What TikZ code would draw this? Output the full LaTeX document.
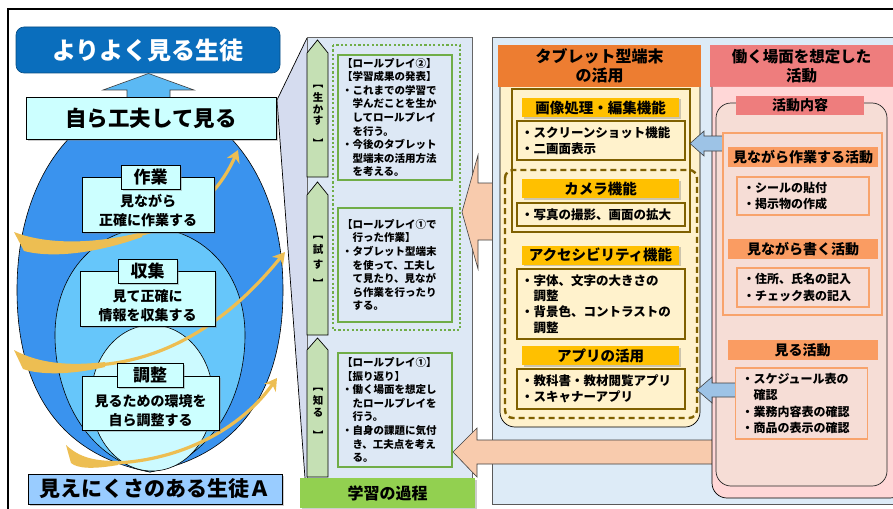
\documentclass[tikz,border=0pt]{standalone}
\usepackage{fontspec}
\setmainfont{Noto Sans CJK JP}
\usetikzlibrary{shadows,arrows.meta}
\newcommand\fsz[2]{\fontsize{#1}{#2}\selectfont}
\definecolor{dblue}{HTML}{0A6EBD}
\definecolor{uparrow}{HTML}{5BB9F4}
\definecolor{lcyan}{HTML}{CCFFFF}
\definecolor{eggA}{HTML}{3A93EE}
\definecolor{eggB}{HTML}{66C6FA}
\definecolor{eggC}{HTML}{CCFAFF}
\definecolor{bottomlbl}{HTML}{99CCFF}
\definecolor{funnel}{HTML}{D5DCEF}
\definecolor{colbg}{HTML}{DDE8F5}
\definecolor{garrow}{HTML}{C5E0B4}
\definecolor{gborder}{HTML}{70AD47}
\definecolor{glabel}{HTML}{92D050}
\definecolor{peach}{HTML}{F8CBAD}
\definecolor{rpanel}{HTML}{DDEBF7}
\definecolor{orhead}{HTML}{ED7D31}
\definecolor{ycol}{HTML}{FFF2CC}
\definecolor{olivebrown}{HTML}{7F6000}
\definecolor{goldh}{HTML}{FFC000}
\definecolor{pinkhead}{HTML}{EE7D7D}
\definecolor{pinkbody}{HTML}{FFD7D7}
\definecolor{pinkinner}{HTML}{F6DDD6}
\definecolor{orlbl}{HTML}{FA9C62}
\definecolor{orborder}{HTML}{F8A36C}
\definecolor{barrow}{HTML}{9DC3E6}
\definecolor{swoosh}{HTML}{EDBE52}
\tikzset{
  shd/.style={drop shadow={shadow xshift=1.5pt,shadow yshift=-1.5pt,opacity=0.4}},
  cbox/.style={draw=black, line width=0.8, fill=lcyan, inner sep=0, align=center, shd},
  btext/.style={font=\bfseries\fsz{14}{19}, align=center, inner sep=0},
  gbox/.style={draw=gborder, line width=1.8, fill=colbg, inner xsep=4pt, text width=106pt, align=left, font=\bfseries\fsz{10.5}{13.6}},
  garr/.style={fill=garrow, draw=black, line width=0.7},
  vtext/.style={font=\bfseries\fsz{10.5}{11.5}, align=center, inner sep=0},
  ghead/.style={fill=goldh, minimum width=157, minimum height=19, inner sep=0, font=\bfseries\fsz{14.5}{14.5}, shd},
  ysub/.style={draw=olivebrown, line width=1.8, fill=ycol, inner xsep=4pt, text width=160pt, align=left, font=\bfseries\fsz{12.5}{15.7}},
  ohead/.style={fill=orlbl, minimum width=150, minimum height=20, inner sep=0, font=\bfseries\fsz{14}{14}},
  osub/.style={draw=orborder, line width=1.6, fill=pinkinner, inner xsep=6pt, text width=120pt, align=left, font=\bfseries\fsz{12}{16.3}},
  swl/.style={draw=swoosh, line width=3.2, -{Stealth[length=12pt,width=14pt]}},
  blk/.style={draw=black!75, line width=0.6}
}
\begin{document}
\begin{tikzpicture}[x=1pt,y=-1pt]
\useasboundingbox (0,0) rectangle (893,508);
\clip (0,0) rectangle (893,508);
\fill[white] (0,0) rectangle (893,508);
\draw[line width=1.2] (8,9) rectangle (910,520);

% funnel and middle column
\fill[funnel] (307,38) -- (277,100) -- (305,478) -- (307,478) -- cycle;
\draw[line width=0.7] (307,38) -- (277,100) -- (305,478);
\filldraw[fill=colbg, draw=black!60, line width=0.7] (307,37) rectangle (472,478);

% eggs
\filldraw[fill=eggA, draw=black, line width=0.6] (150,472) .. controls (60,455) and (17,390) .. (17,290) .. controls (17,175) and (80,101) .. (150,101) .. controls (220,101) and (283,175) .. (283,290) .. controls (283,390) and (240,455) .. (150,472) -- cycle;
\filldraw[fill=eggB, draw=black, line width=0.6] (150,472) .. controls (90,460) and (55,400) .. (55,335) .. controls (55,270) and (100,228) .. (150,228) .. controls (200,228) and (245,270) .. (245,335) .. controls (245,400) and (210,460) .. (150,472) -- cycle;
\filldraw[fill=eggC, draw=black, line width=0.6] (152,398) ellipse [x radius=61, y radius=73];

% swooshes
\fill[swoosh] (14,232) .. controls (50,246) and (100,243) .. (142,232) -- (142,237) .. controls (100,252) and (55,259) .. (24,251) -- cycle;
\draw[swl] (140,234.5) .. controls (185,224) and (218,195) .. (238,150);
\fill[swoosh] (14,350) .. controls (40,364) and (70,366) .. (105,362) -- (105,367) .. controls (70,375) and (40,375) .. (23,369) -- cycle;
\draw[swl] (103,364.5) .. controls (170,358) and (230,320) .. (285,252);
\fill[swoosh] (66,445) .. controls (80,458) and (95,461) .. (118,461) -- (118,465) .. controls (95,469) and (78,469) .. (71,463) -- cycle;
\draw[swl] (116,463) .. controls (180,460) and (240,430) .. (277,378);

% left column nodes
\node[fill=dblue, draw=dblue!70!black, line width=0.6, rounded corners=8, minimum width=264, minimum height=46, inner sep=0, text=white, font=\bfseries\fsz{24}{24}] (goal) at (148,50) {よりよく見る生徒};
\filldraw[fill=uparrow, blk] (127,98) -- (127,90) -- (103,90) -- (148.5,73.5) -- (194,90) -- (170,90) -- (170,98) -- cycle;
\node[cbox, minimum width=250, minimum height=42, font=\bfseries\fsz{21.5}{21.5}] (jiriki) at (151,118) {自ら工夫して見る};

\node[cbox, minimum width=132, minimum height=55] (b1) at (148,204.5) {};
\node[btext] (b1t) at (148,211) {見ながら\\正確に作業する};
\node[cbox, minimum width=59, minimum height=24, font=\bfseries\fsz{17}{17}] (l1) at (150.5,177) {作業};
\node[cbox, minimum width=135, minimum height=55] (b2) at (147.5,298.5) {};
\node[btext] (b2t) at (147.5,306) {見て正確に\\情報を収集する};
\node[cbox, minimum width=59, minimum height=24, font=\bfseries\fsz{17}{17}] (l2) at (147.5,271) {収集};
\node[cbox, minimum width=137, minimum height=54] (b3) at (150.5,403) {};
\node[btext] (b3t) at (150.5,411) {見るための環境を\\自ら調整する};
\node[cbox, minimum width=66, minimum height=24, font=\bfseries\fsz{17}{17}] (l3) at (150,375) {調整};
\node[draw=black, line width=0.8, fill=bottomlbl, minimum width=254, minimum height=30, inner sep=0, font=\bfseries\fsz{21}{21}, shd] (studentA) at (155,489) {見えにくさのある生徒Ａ};

% middle column
\filldraw[garr] (307,53) -- (317.5,40) -- (328,53) -- (328,177) -- (307,177) -- cycle;
\filldraw[garr] (307,195) -- (317.5,182) -- (328,195) -- (328,335) -- (307,335) -- cycle;
\filldraw[garr] (307,350) -- (317.5,338) -- (328,350) -- (328,477) -- (307,477) -- cycle;
\node[vtext] (v1) at (318,116) {︻\\[3pt]生\\か\\す\\[11pt]︼};
\node[vtext] (v2) at (318,262) {︻\\[4pt]試\\[3pt]す\\[8pt]︼};
\node[vtext] (v3) at (318,414) {︻\\[3pt]知\\る\\[12pt]︼};

\draw[gborder, line width=2.2, dash pattern=on 2.2pt off 2.2pt] (333,45) rectangle (460,330);
\node[gbox, minimum height=119] (bA) at (395,117.5) {【ロールプレイ②】\\【学習成果の発表】\\・これまでの学習で\\　学んだことを生か\\　してロールプレイ\\　を行う。\\・今後のタブレット\\　型端末の活用方法\\　を考える。};
\node[gbox, minimum height=114] (bB) at (395,265) {【ロールプレイ①で\\　行った作業】\\・タブレット型端末\\　を使って、工夫し\\　て見たり、見なが\\　ら作業を行ったり\\　する。};
\node[gbox, minimum height=114] (bC) at (395,410) {【ロールプレイ①】\\【振り返り】\\・働く場面を想定し\\　たロールプレイを\\　行う。\\・自身の課題に気付\\　き、工夫点を考え\\　る。};
\node[fill=glabel, minimum width=175, minimum height=30, inner sep=0, font=\bfseries\fsz{16}{16}, shd] (process) at (387.5,493) {学習の過程};

% peach arrow into middle column (upper)
\filldraw[fill=peach, blk] (495,183) -- (478,183) -- (478,155) -- (462,212) -- (478,269) -- (478,240) -- (495,240) -- cycle;

% right panel
\filldraw[fill=rpanel, draw=black!65, line width=0.8] (492,37) rectangle (905,504);

% peach arrow (lower)
\filldraw[fill=peach, blk] (720,440) -- (477,440) -- (477,428) -- (453,452) -- (477,477) -- (477,464) -- (720,464) -- cycle;

% tablet column
\filldraw[fill=ycol, draw=black, line width=0.7, rounded corners=15] (500,87) -- (500,427) -- (700,427) -- (700,87);
\node[fill=orhead, minimum width=203, minimum height=42, inner sep=0, align=center, font=\bfseries\fsz{16}{18.5}] (tabhead) at (599.5,66) {タブレット型端末\\の活用};
\draw[olivebrown, line width=2.4] (512,89) rectangle (690,232);
\draw[olivebrown, line width=2.4, dash pattern=on 6pt off 4pt, rounded corners=8] (505,170) rectangle (697,418);
\node[ghead] (h1) at (600.5,107.5) {画像処理・編集機能};
\node[ysub, minimum height=39] (s1) at (601,140.5) {・スクリーンショット機能\\・二画面表示};
\node[ghead] (h2) at (600.5,188.5) {カメラ機能};
\node[ysub, minimum height=23] (s2) at (601,214.5) {・写真の撮影、画面の拡大};
\node[ghead] (h3) at (600.5,255) {アクセシビリティ機能};
\node[ysub, minimum height=70] (s3) at (601,304) {・字体、文字の大きさの\\　調整\\・背景色、コントラストの\\　調整};
\node[ghead] (h4) at (600.5,355.5) {アプリの活用};
\node[ysub, minimum height=40] (s4) at (601,389) {・教科書・教材閲覧アプリ\\・スキャナーアプリ};

% work column
\node[fill=pinkhead, minimum width=183, minimum height=42, inner sep=0, align=center, font=\bfseries\fsz{15.5}{19}] (workhead) at (801.5,66) {働く場面を想定した\\活動};
\filldraw[fill=pinkbody, draw=black, line width=0.7, rounded corners=15] (712,87) -- (712,498) -- (905,498) -- (905,87);
\filldraw[fill=pinkinner, draw=black!85, line width=0.7, rounded corners=15] (716,103) rectangle (887,486);
\node[fill=pinkhead, minimum width=128, minimum height=19, inner sep=0, font=\bfseries\fsz{14}{14}] (naiyo) at (800,105.5) {活動内容};

% blue arrows
\filldraw[fill=barrow, blk] (723,136) -- (704,136) -- (704,131) -- (690,143.5) -- (704,156) -- (704,151) -- (723,151) -- cycle;
\filldraw[fill=barrow, blk] (736,383) -- (712,383) -- (712,377) -- (697,390) -- (712,403) -- (712,397) -- (736,397) -- cycle;

\draw[orborder, line width=2] (723,133) rectangle (882,315);
\node[ohead] (oh1) at (803,157) {見ながら作業する活動};
\node[osub, minimum height=38] (os1) at (803,196) {・シールの貼付\\・掲示物の作成};
\node[ohead] (oh2) at (803,249) {見ながら書く活動};
\node[osub, minimum height=39] (os2) at (803,287.5) {・住所、氏名の記入\\・チェック表の記入};
\node[ohead] (oh3) at (802.5,350) {見る活動};
\node[osub, minimum height=71] (os3) at (801.5,403.5) {・スケジュール表の\\　確認\\・業務内容表の確認\\・商品の表示の確認};
\end{tikzpicture}
\end{document}
